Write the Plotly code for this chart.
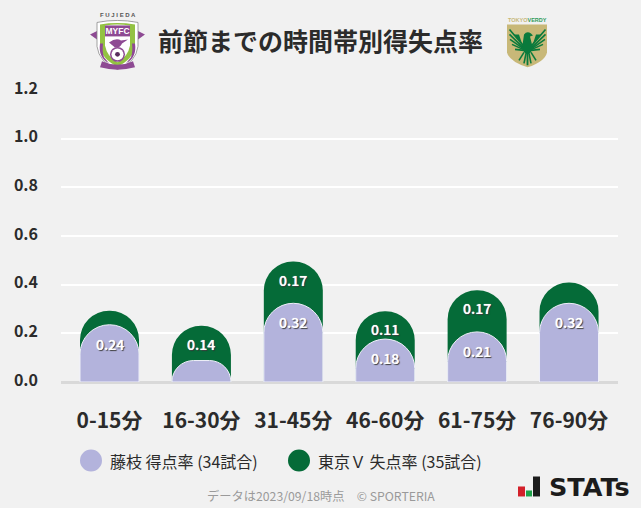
import base64
import plotly.graph_objects as go

categories = ["0-15分", "16-30分", "31-45分", "46-60分", "61-75分", "76-90分"]
fujieda_scored = [0.2353, 0.0882, 0.3235, 0.1765, 0.2059, 0.3235]
verdy_conceded = [0.0571, 0.1429, 0.1714, 0.1143, 0.1714, 0.0857]
label_threshold = 0.10
y_ticks = [0.0, 0.2, 0.4, 0.6, 0.8, 1.0, 1.2]

FONT = "Noto Sans CJK JP"
W, H = 641, 508
L, R, T, B = 61, 618, 89.7, 382.3
PURPLE, GREEN = "#b3b3dc", "#056b38"


def px(x):
    return (x - L) / (R - L)


def py(y):
    return (B - y) / (B - T)


def data_uri(svg):
    return "data:image/svg+xml;base64," + base64.b64encode(svg.encode()).decode()


fujieda_svg = """<svg xmlns="http://www.w3.org/2000/svg" viewBox="0 0 65 65" width="260" height="260">
<path d="M5 24 L15 19 L17 11 L24 14 L22 29 L12 29 Z" fill="#8e4a93"/>
<path d="M60 24 L50 19 L48 11 L41 14 L43 29 L53 29 Z" fill="#8e4a93"/>
<path d="M12 12 Q32 8 53 12 L53 36 Q51 52 32.5 59 Q14 52 12 36 Z" fill="#ffffff" stroke="#8a8a8a" stroke-width="0.8"/>
<path d="M15 14 Q32 11 50 14 L50 36 Q48 49 32.5 56 Q17 49 15 36 Z" fill="#93c243"/>
<path d="M20 15 Q32 13 45 15 L45 35 Q43 46 32.5 52 Q22 46 20 35 Z" fill="#ffffff"/>
<rect x="20" y="15" width="25" height="11" fill="#8e4a93"/>
<text x="32.5" y="24" font-family="Liberation Sans" font-size="8.5" font-weight="700" fill="#ffffff" text-anchor="middle">MYFC</text>
<path d="M24 32 Q31 27 36 30 L43 29 L37 33 Q35 38 30 37 Z" fill="#8e4a93"/>
<circle cx="32.5" cy="44" r="7.5" fill="#8e4a93"/>
<circle cx="32.5" cy="44" r="6" fill="#ffffff"/>
<circle cx="32.5" cy="44" r="2.4" fill="#5a2e5e"/>
<path d="M15 33 Q13 47 24 53 L19 47 Q17 41 18 33 Z" fill="#8e4a93"/>
<path d="M50 33 Q52 47 41 53 L46 47 Q48 41 47 33 Z" fill="#8e4a93"/>
<path d="M17 51 Q32.5 58 48 51 L50 57 Q32.5 62 15 57 Z" fill="#8e4a93"/>
</svg>"""

verdy_svg = """<svg xmlns="http://www.w3.org/2000/svg" viewBox="0 0 65 65" width="260" height="260">
<path d="M12 14 H52 V42 Q50 51 32.5 57 Q14 51 12 42 Z" fill="#c8b878"/>
<g fill="none" stroke="#0a7a3c" stroke-linecap="butt">
<path d="M29 36 L14.5 19" stroke-width="1.6"/>
<path d="M28 37 L14.5 24" stroke-width="1.6"/>
<path d="M28 38 L15 29" stroke-width="1.6"/>
<path d="M28 39 L17 34" stroke-width="1.6"/>
<path d="M29 40 L20 39" stroke-width="1.6"/>
<path d="M36 36 L50.5 19" stroke-width="1.6"/>
<path d="M37 37 L50.5 24" stroke-width="1.6"/>
<path d="M37 38 L50 29" stroke-width="1.6"/>
<path d="M37 39 L48 34" stroke-width="1.6"/>
<path d="M36 40 L45 39" stroke-width="1.6"/>
<path d="M29 42 L24 50" stroke-width="1.6"/>
<path d="M31 43 L29 53" stroke-width="1.6"/>
<path d="M32.5 43 L32.5 55" stroke-width="1.8"/>
<path d="M34 43 L36 53" stroke-width="1.6"/>
<path d="M36 42 L41 50" stroke-width="1.6"/>
</g>
<path d="M29 24 Q32 20 36 23 L38 25 L35 26 L38 38 Q35 44 32.5 44 Q30 44 27 38 Z" fill="#0a7a3c"/>
<path d="M28 36 L19 24 L24 24 Z M37 36 L46 24 L41 24 Z" fill="#0a7a3c"/>
</svg>"""

fig = go.Figure()

totals = [a + b for a, b in zip(fujieda_scored, verdy_conceded)]

fig.add_bar(
    x=categories, y=totals, customdata=verdy_conceded, name="東京Ｖ 失点率 (35試合)",
    marker=dict(color=GREEN, cornerradius="50%", line=dict(width=0)),
    width=0.642, hovertemplate="%{x}: %{customdata:.2f}<extra></extra>",
)
fig.add_bar(
    x=categories, y=fujieda_scored, name="藤枝 得点率 (34試合)", yaxis="y2",
    marker=dict(color=PURPLE, cornerradius="50%", line=dict(color="#f0f0fa", width=1)),
    width=0.642, hovertemplate="%{x}: %{y:.2f}<extra></extra>",
)

annotations = []
value_font = dict(family=FONT, size=14, color="#ffffff", weight=500,
                  shadow="0 0 0.7px #ffffff, 1px 1px 1px #333333")
for c, top, v in zip(categories, totals, verdy_conceded):
    if v >= label_threshold:
        annotations.append(dict(x=c, y=top, xref="x", yref="y", text=f"{v:.2f}", showarrow=False,
                                yshift=-18, font=value_font))
for c, v in zip(categories, fujieda_scored):
    if v >= label_threshold:
        annotations.append(dict(x=c, y=v, xref="x", yref="y", text=f"{v:.2f}", showarrow=False,
                                yshift=-19, font=value_font))


def label(x, y, text, size, color, anchor="left", weight=400, family=FONT):
    annotations.append(dict(x=px(x), y=py(y), xref="paper", yref="paper", text=text, showarrow=False,
                            xanchor=anchor, yanchor="middle", align=anchor,
                            font=dict(family=family, size=size, color=color, weight=weight)))


label(320.5, 39.5, "前節までの時間帯別得失点率", 25, "#2b2b2b", "center", 700)
label(108, 461, "藤枝 得点率 (34試合)", 16, "#2b2b2b")
label(316, 461, "東京Ｖ 失点率 (35試合)", 16, "#2b2b2b")
label(320.5, 497, "データは2023/09/18時点　© SPORTERIA", 12.25, "#9a9a9a", "center")
label(547, 488, "STATs", 25.5, "#1c1c1c", "left", 700, "DejaVu Sans")
label(117.5, 15, "F U J I E D A", 6, "#555555", "center", 700, "Liberation Sans")
label(527, 19.5, "TOKYO<span style='color:#2f9a5a'>VERDY</span>", 5.5, "#c8b878", "center", 700, "Liberation Sans")


def circle(x0, y0, x1, y1, color):
    return dict(type="circle", xref="paper", yref="paper", x0=px(x0), x1=px(x1), y0=py(y0), y1=py(y1),
                fillcolor=color, line=dict(width=0), layer="above")


def rect(x0, y0, x1, y1, color):
    return dict(type="rect", xref="paper", yref="paper", x0=px(x0), x1=px(x1), y0=py(y0), y1=py(y1),
                fillcolor=color, line=dict(width=0), layer="above")


shapes = [
    circle(80, 450, 102, 472, PURPLE),
    circle(288, 450, 310, 472, GREEN),
    rect(518, 487, 525, 497, "#d3202a"),
    rect(526, 491, 532, 497, "#1fa24a"),
    rect(533, 477, 540, 497, "#1c1c1c"),
]

images = [
    dict(source=data_uri(fujieda_svg), xref="paper", yref="paper", x=px(85), y=py(10),
         sizex=65 / (R - L), sizey=65 / (B - T), xanchor="left", yanchor="top", sizing="stretch", layer="above"),
    dict(source=data_uri(verdy_svg), xref="paper", yref="paper", x=px(495), y=py(10),
         sizex=65 / (R - L), sizey=65 / (B - T), xanchor="left", yanchor="top", sizing="stretch", layer="above"),
]

fig.update_layout(
    width=W, height=H, autosize=False, barmode="overlay", showlegend=False,
    paper_bgcolor="#f1f1f1", plot_bgcolor="#f1f1f1",
    margin=dict(l=L, r=W - R, t=T, b=H - B, pad=0),
    font=dict(family=FONT),
    annotations=annotations, shapes=shapes, images=images,
    xaxis=dict(type="category", range=[-0.528, 5.533], showgrid=False, zeroline=False,
               showline=False, ticks="", ticklabelstandoff=24,
               tickfont=dict(family=FONT, size=21, color="#2b2b2b", weight=700)),
    yaxis=dict(range=[0, 1.2], tickvals=y_ticks, ticktext=[f"{v:.1f}" for v in y_ticks],
               showgrid=True, gridcolor="#ffffff", gridwidth=2, zeroline=True, zerolinecolor="#d9d9d9",
               zerolinewidth=3, showline=False, ticks="", ticklabelstandoff=22, ticklabelshift=-2,
               tickfont=dict(family=FONT, size=16, color="#2b2b2b", weight=700)),
    yaxis2=dict(range=[0, 1.2], overlaying="y", visible=False),
)
fig.write_html("out.html", config=dict(displayModeBar=False),
               post_script="document.body.style.margin='0';document.documentElement.style.background='#f1f1f1';")
